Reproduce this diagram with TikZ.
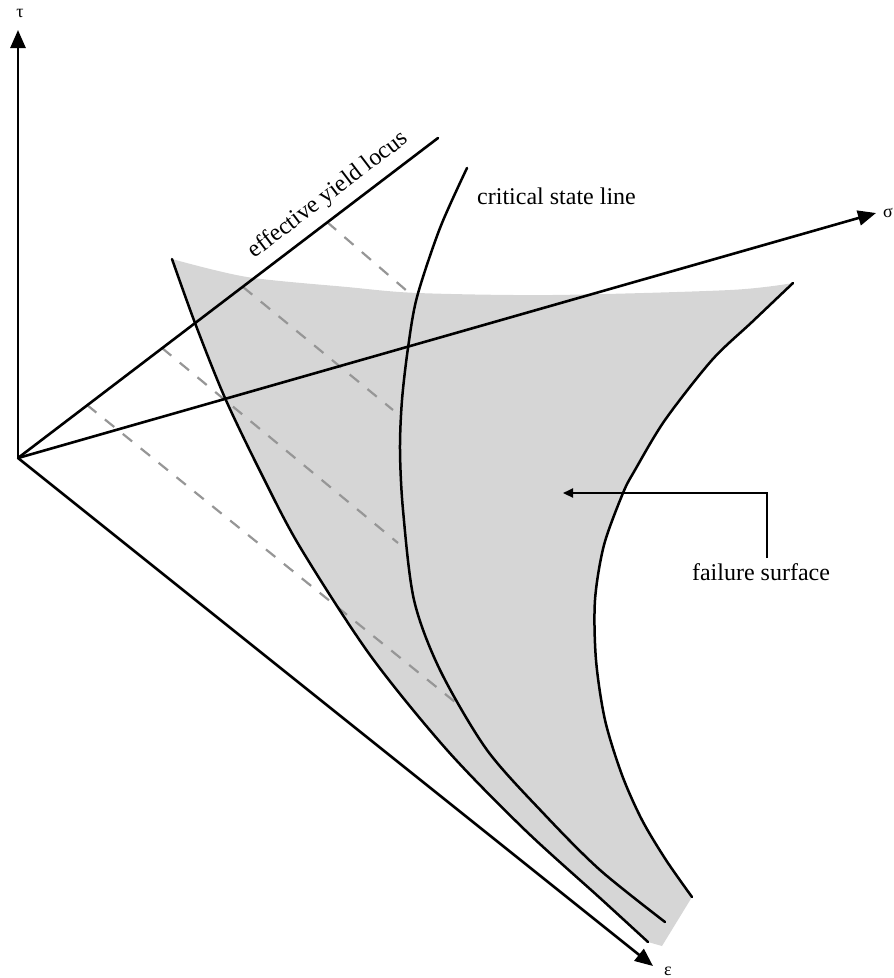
\documentclass[tikz,border=0pt]{standalone}
\usepackage{fontspec}
\setmainfont{Liberation Serif}
\usetikzlibrary{arrows.meta}
\definecolor{surf}{RGB}{214,214,214}
\definecolor{dashgrey}{RGB}{150,150,150}
\begin{document}
\begin{tikzpicture}[x=1pt,y=-1pt,
  axisline/.style={line width=2.6pt, -{Triangle[length=18pt,width=15pt]}},
  curveline/.style={line width=2.5pt, line cap=round},
  projline/.style={dashgrey, line width=2.2pt, dash pattern=on 12pt off 11pt},
  lbl/.style={font=\fontsize{24}{27}\selectfont, inner sep=0pt},
  axlbl/.style={font=\fontsize{18}{20}\selectfont, inner sep=0pt}]
\useasboundingbox (0,0) rectangle (894,978);
% key points
\coordinate (O) at (18,458);
\coordinate (tauTip) at (18,30);
\coordinate (sigTip) at (876,213);
\coordinate (epsTip) at (653,966);
\coordinate (yEnd) at (438,138);
% failure surface fill
\fill[surf] plot[smooth] coordinates {(172,259) (247,277) (347,287) (418,293) (552,295) (730,290) (793,283)}
  -- plot[smooth] coordinates {(793,283) (752,322) (712,360) (665,420) (635,470) (623,493) (604,545) (595,600) (596,660) (605,720) (622,775) (642,820) (666,860) (692,897)}
  -- (662,946)
  -- plot[smooth] coordinates {(648,942) (600,898) (525,830) (447,750) (370,655) (300,547) (262,475) (225,398) (195,323) (172,259)}
  -- cycle;
% dashed projection lines
\coordinate (a1) at (327,222); \coordinate (a2) at (407,291);
\coordinate (b1) at (243,287); \coordinate (b2) at (393,410);
\coordinate (c1) at (162,348); \coordinate (c2) at (398,543);
\coordinate (d1) at (87,405);  \coordinate (d2) at (460,706);
\draw[projline] (a1) -- (a2);
\draw[projline] (b1) -- (b2);
\draw[projline] (c1) -- (c2);
\draw[projline] (d1) -- (d2);
% curves
\draw[curveline] plot[smooth] coordinates {(172,259) (195,323) (225,398) (262,475) (300,547) (370,655) (447,750) (525,830) (600,898) (648,942)};
\draw[curveline] plot[smooth] coordinates {(467,168) (440,228) (417,297) (408,348) (402,400) (400,450) (403,510) (414,600) (440,670) (487,750) (545,815) (600,870) (665,922)};
\draw[curveline] plot[smooth] coordinates {(793,283) (752,322) (712,360) (665,420) (635,470) (623,493) (604,545) (595,600) (596,660) (605,720) (622,775) (642,820) (666,860) (692,897)};
% axes
\draw[axisline] (O) -- (tauTip);
\draw[axisline] (O) -- (sigTip);
\draw[axisline] (O) -- (epsTip);
\draw[line width=2.6pt, line cap=round] (O) -- (yEnd);
% axis labels
\node[axlbl] (tau) at (20,13) {τ};
\node[axlbl, anchor=east] (sig) at (893,213) {σ};
\node[axlbl, anchor=west] (eps) at (664,971) {ε};
% text labels
\node[lbl, rotate=37.3, anchor=base] (eyl) at (332,200) {effective yield locus};
\node[lbl, anchor=west] (csl) at (477,196) {critical state line};
\node[lbl] (fs) at (761,572) {failure surface};
\coordinate (fsBot) at (767,558);
\coordinate (fsCorner) at (767,493);
\coordinate (fsTip) at (563,493);
\draw[line width=2.2pt, -{Triangle[length=10pt,width=9pt]}] (fsBot) -- (fsCorner) -- (fsTip);
\end{tikzpicture}
\end{document}
